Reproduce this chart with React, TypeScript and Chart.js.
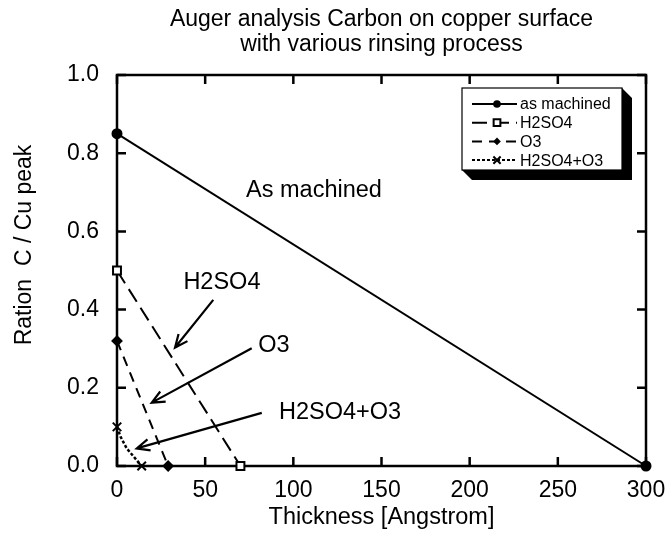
import React, { useEffect, useRef } from "react";
import { Chart, registerables } from "chart.js";

Chart.register(...registerables);

const FONT = "'Liberation Sans', Arial, Helvetica, sans-serif";

const titleLines = ["Auger analysis Carbon on copper surface", "with various rinsing process"];
const xAxisTitle = "Thickness [Angstrom]";
const yAxisTitle = "Ration  C / Cu peak";

const seriesNames = ["as machined", "H2SO4", "O3", "H2SO4+O3"];
const asMachinedX = [0, 300];
const asMachinedY = [0.85, 0];
const h2so4X = [0, 70];
const h2so4Y = [0.5, 0];
const o3X = [0, 29];
const o3Y = [0.32, 0];
const mixX = [0, 2, 5.5, 14];
const mixY = [0.1, 0.075, 0.045, 0];

const xTicks = [0, 50, 100, 150, 200, 250, 300];
const yTicks = [0, 0.2, 0.4, 0.6, 0.8, 1.0];

// annotation texts with anchor points (data coordinates)
const annotationTexts = ["As machined", "H2SO4", "O3", "H2SO4+O3"];
const annotationAt = [
  [111.7, 0.705],
  [59.5, 0.468],
  [89, 0.307],
  [126.5, 0.136],
];
// arrows: [fromX, fromY, toX, toY] in data coordinates
const arrows = [
  [54.6, 0.425, 32.9, 0.303],
  [76.4, 0.301, 19.7, 0.162],
  [82.1, 0.136, 11.2, 0.045],
];

const zip = (xs: number[], ys: number[]) => xs.map((x, i) => ({ x, y: ys[i] }));

const styles = [
  { pointStyle: "circle", radius: 4.5, fill: "#000", dash: [] as number[] },
  { pointStyle: "rect", radius: 5.6, fill: "#fff", dash: [15, 7] },
  { pointStyle: "rectRot", radius: 4.5, fill: "#000", dash: [10, 7] },
  { pointStyle: "crossRot", radius: 6, fill: "#000", dash: [3, 2] },
];

function drawMarker(ctx: CanvasRenderingContext2D, style: string, x: number, y: number, r: number, fill: string) {
  ctx.save();
  ctx.fillStyle = fill;
  ctx.strokeStyle = "#000";
  ctx.lineWidth = 2;
  ctx.setLineDash([]);
  ctx.beginPath();
  if (style === "circle") {
    ctx.arc(x, y, r, 0, Math.PI * 2);
    ctx.fill();
  } else if (style === "rect") {
    const s = r * Math.SQRT1_2;
    ctx.rect(x - s, y - s, 2 * s, 2 * s);
    ctx.fill();
    ctx.stroke();
  } else if (style === "rectRot") {
    ctx.moveTo(x, y - r);
    ctx.lineTo(x + r, y);
    ctx.lineTo(x, y + r);
    ctx.lineTo(x - r, y);
    ctx.closePath();
    ctx.fill();
  } else {
    const s = r * Math.SQRT1_2;
    ctx.moveTo(x - s, y - s);
    ctx.lineTo(x + s, y + s);
    ctx.moveTo(x + s, y - s);
    ctx.lineTo(x - s, y + s);
    ctx.stroke();
  }
  ctx.restore();
}

function drawArrow(ctx: CanvasRenderingContext2D, x1: number, y1: number, x2: number, y2: number) {
  const ang = Math.atan2(y2 - y1, x2 - x1);
  const len = 14;
  const spread = 0.42;
  ctx.beginPath();
  ctx.moveTo(x1, y1);
  ctx.lineTo(x2, y2);
  ctx.moveTo(x2 - len * Math.cos(ang - spread), y2 - len * Math.sin(ang - spread));
  ctx.lineTo(x2, y2);
  ctx.lineTo(x2 - len * Math.cos(ang + spread), y2 - len * Math.sin(ang + spread));
  ctx.stroke();
}

const framePlugin = {
  id: "frame",
  beforeDatasetsDraw(chart: any) {
    const { ctx, chartArea: a, scales } = chart;
    ctx.save();
    ctx.strokeStyle = "#000";
    ctx.lineWidth = 2.5;
    ctx.strokeRect(a.left, a.top, a.right - a.left, a.bottom - a.top);
    const t = 9;
    ctx.beginPath();
    xTicks.forEach((v) => {
      const px = scales.x.getPixelForValue(v);
      ctx.moveTo(px, a.bottom);
      ctx.lineTo(px, a.bottom - t);
      ctx.moveTo(px, a.top);
      ctx.lineTo(px, a.top + t);
    });
    yTicks.forEach((v) => {
      const py = scales.y.getPixelForValue(v);
      ctx.moveTo(a.left, py);
      ctx.lineTo(a.left + t, py);
      ctx.moveTo(a.right, py);
      ctx.lineTo(a.right - t, py);
    });
    ctx.stroke();
    ctx.restore();
  },
  afterDraw(chart: any) {
    const { ctx, chartArea: a, scales } = chart;
    ctx.save();
    ctx.fillStyle = "#000";
    ctx.textAlign = "center";
    ctx.textBaseline = "middle";

    // title
    ctx.font = `23px ${FONT}`;
    const cx = (a.left + a.right) / 2;
    ctx.fillText(titleLines[0], cx, 20);
    ctx.fillText(titleLines[1], cx, 45);

    // y axis title
    ctx.save();
    ctx.translate(25, 245);
    ctx.rotate(-Math.PI / 2);
    ctx.font = `23px ${FONT}`;
    ctx.fillText(yAxisTitle, 0, 0);
    ctx.restore();

    // annotations
    ctx.font = `23.5px ${FONT}`;
    annotationTexts.forEach((txt, i) => {
      ctx.fillText(txt, scales.x.getPixelForValue(annotationAt[i][0]), scales.y.getPixelForValue(annotationAt[i][1]));
    });
    ctx.strokeStyle = "#000";
    ctx.lineWidth = 2.2;
    arrows.forEach((ar) => {
      drawArrow(
        ctx,
        scales.x.getPixelForValue(ar[0]),
        scales.y.getPixelForValue(ar[1]),
        scales.x.getPixelForValue(ar[2]),
        scales.y.getPixelForValue(ar[3])
      );
    });

    // legend
    const bw = 160, bh = 82, d = 10;
    const bx = a.right - 24 - bw;
    const by = a.top + 13;
    ctx.fillStyle = "#000";
    ctx.beginPath();
    ctx.moveTo(bx + bw, by);
    ctx.lineTo(bx + bw + d, by + d);
    ctx.lineTo(bx + bw + d, by + bh + d);
    ctx.lineTo(bx + d, by + bh + d);
    ctx.lineTo(bx, by + bh);
    ctx.lineTo(bx + bw, by + bh);
    ctx.closePath();
    ctx.fill();
    ctx.fillStyle = "#fff";
    ctx.fillRect(bx, by, bw, bh);
    ctx.lineWidth = 1.2;
    ctx.strokeStyle = "#000";
    ctx.strokeRect(bx, by, bw, bh);

    ctx.font = `16px ${FONT}`;
    ctx.textAlign = "left";
    ctx.textBaseline = "middle";
    seriesNames.forEach((name, i) => {
      const y = by + 16 + i * 18.7;
      const st = styles[i];
      ctx.save();
      ctx.lineWidth = 2;
      ctx.strokeStyle = "#000";
      ctx.setLineDash(st.dash);
      ctx.beginPath();
      ctx.moveTo(bx + 10, y);
      ctx.lineTo(bx + 55, y);
      ctx.stroke();
      ctx.restore();
      drawMarker(ctx, st.pointStyle, bx + 35, y, st.radius * 0.85, st.fill);
      ctx.fillStyle = "#000";
      ctx.fillText(name, bx + 58, y + 1);
    });
    ctx.restore();
  },
};

export default function App() {
  const ref = useRef<HTMLCanvasElement | null>(null);
  useEffect(() => {
    if (!ref.current) return;
    const seriesData = [
      zip(asMachinedX, asMachinedY),
      zip(h2so4X, h2so4Y),
      zip(o3X, o3Y),
      zip(mixX, mixY),
    ];
    const chart = new Chart(ref.current, {
      type: "line",
      data: {
        datasets: seriesNames.map((name, i) => ({
          label: name,
          data: seriesData[i],
          borderColor: "#000",
          borderWidth: i === 3 ? 2.5 : 2,
          borderDash: styles[i].dash,
          pointStyle: styles[i].pointStyle as any,
          pointRadius: i === 3 ? [6, 0, 0, 6] : styles[i].radius,
          pointBackgroundColor: styles[i].fill,
          pointBorderColor: "#000",
          pointBorderWidth: 2,
          fill: false,
          tension: 0,
          clip: false as any,
        })),
      },
      options: {
        animation: false,
        responsive: false,
        layout: { padding: { top: 75, right: 20, left: 0, bottom: 0 } },
        plugins: {
          legend: { display: false },
          title: { display: false },
          tooltip: { enabled: false },
        },
        scales: {
          x: {
            type: "linear",
            min: 0,
            max: 300,
            afterBuildTicks: (s: any) => {
              s.ticks = xTicks.map((v) => ({ value: v }));
            },
            afterFit: (s: any) => {
              s.height = 68;
              s.paddingLeft = 0;
              s.paddingRight = 0;
            },
            grid: { display: false, drawTicks: false },
            border: { display: false },
            ticks: { color: "#000", font: { family: FONT, size: 23 }, padding: 11, maxRotation: 0, autoSkip: false },
            title: { display: true, text: xAxisTitle, color: "#000", font: { family: FONT, size: 23.5 }, padding: { top: 0, bottom: 2 } },
          },
          y: {
            type: "linear",
            min: 0,
            max: 1,
            afterBuildTicks: (s: any) => {
              s.ticks = yTicks.map((v) => ({ value: v }));
            },
            afterFit: (s: any) => {
              s.width = 117;
              s.paddingTop = 0;
              s.paddingBottom = 0;
            },
            grid: { display: false, drawTicks: false },
            border: { display: false },
            ticks: {
              color: "#000",
              font: { family: FONT, size: 23 },
              padding: 18,
              autoSkip: false,
              callback: (v: any) => Number(v).toFixed(1),
            },
            title: { display: false },
          },
        },
      },
      plugins: [framePlugin],
    });
    return () => chart.destroy();
  }, []);
  return (
    <div style={{ position: "fixed", left: 0, top: 0, width: 666, height: 534, background: "#fff" }}>
      <canvas ref={ref} width={666} height={534} style={{ width: 666, height: 534 }} />
    </div>
  );
}
